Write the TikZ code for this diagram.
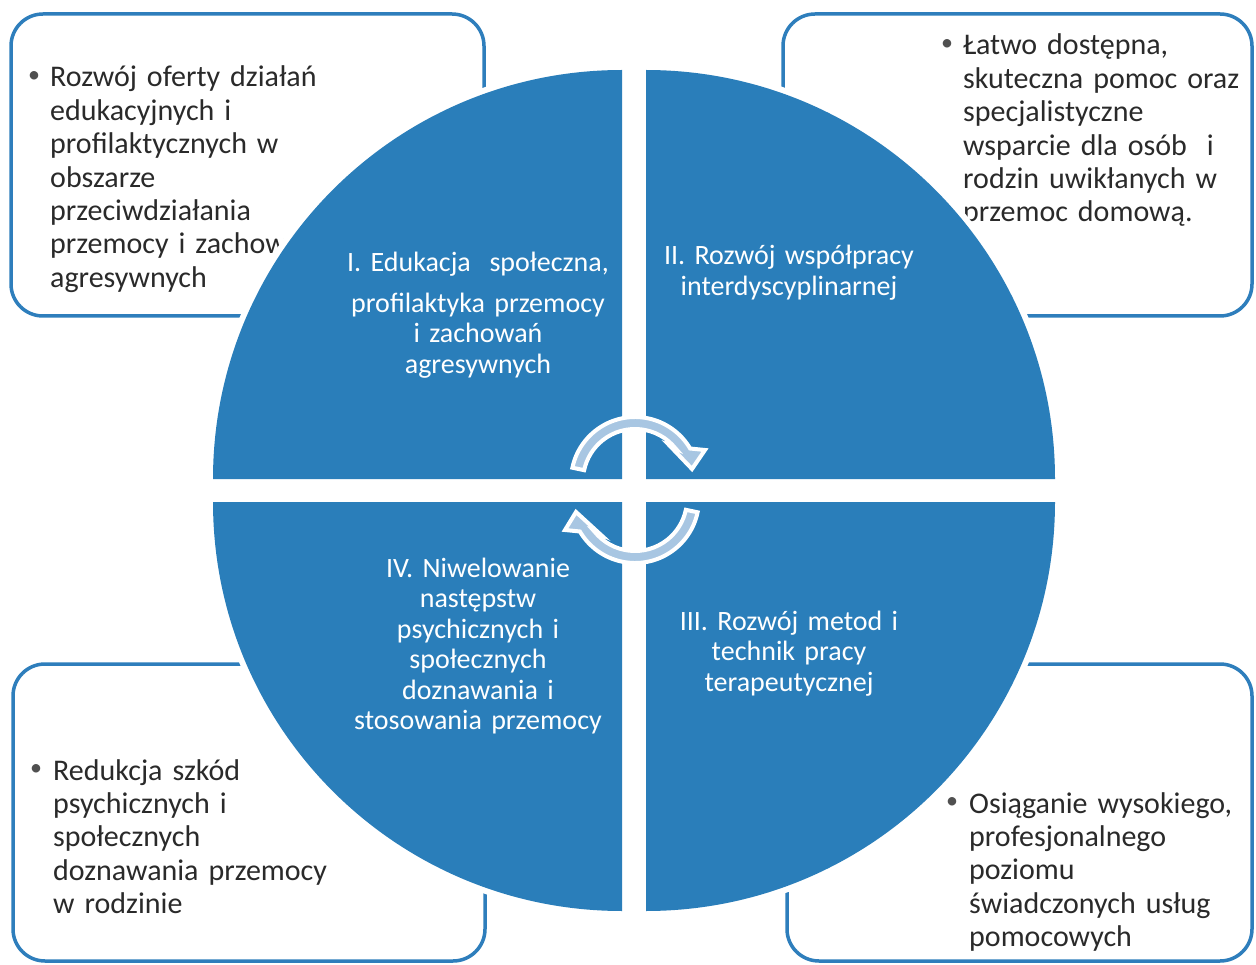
\documentclass[tikz,border=0pt]{standalone}
\usepackage{fontspec}
\setmainfont{Carlito}
\definecolor{qblue}{RGB}{42,126,186}
\definecolor{boxblue}{RGB}{46,126,188}
\definecolor{arrowblue}{RGB}{168,198,226}
\definecolor{txtgray}{RGB}{42,42,42}
\definecolor{bulgray}{RGB}{80,80,80}
\begin{document}
\begin{tikzpicture}[x=1pt,y=-1pt,
  halo/.style={draw=white,line width=12pt,line join=round},
  quad/.style={fill=qblue},
  infobox/.style={draw=boxblue,line width=3.5pt,rounded corners=32pt},
  boxtext/.style={inner sep=0pt,anchor=base west,text width=420pt,align=left,text=txtgray,font=\fontsize{30}{33.4}\selectfont},
  bulletmark/.style={inner sep=0pt,anchor=center,text=bulgray,font=\fontsize{24}{24}\selectfont},
  qtext/.style={inner sep=0pt,anchor=base,text width=320pt,align=center,text=white,font=\fontsize{28}{30.5}\selectfont},
  arrowst/.style={fill=arrowblue,draw=white,line width=4pt,line join=miter}
]
\useasboundingbox (0,0) rectangle (1256,965);
\fill[white] (0,0) rectangle (1256,965);

% outer boxes
\draw[infobox] (11,14) rectangle (484,316);
\draw[infobox] (783,14) rectangle (1252,316);
\draw[infobox] (13,664) rectangle (485,961);
\draw[infobox] (787,664) rectangle (1252,961);

% box texts
\node[bulletmark] (b1) at (34,77) {•};
\node[boxtext] (t1) at (50,87) {Rozwój oferty działań\\edukacyjnych i\\profilaktycznych w\\obszarze\\przeciwdziałania\\przemocy i zachowań\\agresywnych};
\node[bulletmark] (b2) at (947,45) {•};
\node[boxtext] (t2) at (963,55) {Łatwo dostępna,\\skuteczna pomoc oraz\\specjalistyczne\\wsparcie dla osób \ i\\rodzin uwikłanych w\\przemoc domową.};
\node[bulletmark] (b3) at (36,770) {•};
\node[boxtext] (t3) at (53,780) {Redukcja szkód\\psychicznych i\\społecznych\\doznawania przemocy\\w rodzinie};
\node[bulletmark] (b4) at (952,803) {•};
\node[boxtext] (t4) at (969,813) {Osiąganie wysokiego,\\profesjonalnego\\poziomu\\świadczonych usług\\pomocowych};

% white halos of the quadrants
\path[halo] (622,479) -- ++(-409,0) arc[start angle=180,end angle=270,radius=409] -- cycle;
\path[halo] (646,479) -- ++(0,-409) arc[start angle=270,end angle=360,radius=409] -- cycle;
\path[halo] (646,502) -- ++(409,0) arc[start angle=0,end angle=90,radius=409] -- cycle;
\path[halo] (622,502) -- ++(0,409) arc[start angle=90,end angle=180,radius=409] -- cycle;
% quadrants
\fill[quad] (622,479) -- ++(-409,0) arc[start angle=180,end angle=270,radius=409] -- cycle;
\fill[quad] (646,479) -- ++(0,-409) arc[start angle=270,end angle=360,radius=409] -- cycle;
\fill[quad] (646,502) -- ++(409,0) arc[start angle=0,end angle=90,radius=409] -- cycle;
\fill[quad] (622,502) -- ++(0,409) arc[start angle=90,end angle=180,radius=409] -- cycle;

% quadrant texts
\node[qtext] (q1) at (478,272) {I. Edukacja \ społeczna,\\[10pt]profilaktyka przemocy\\i zachowań\\agresywnych};
\node[qtext] (q2) at (789,265) {II. Rozwój współpracy\\interdyscyplinarnej};
\node[qtext] (q3) at (789,630) {III. Rozwój metod i\\technik pracy\\terapeutycznej};
\node[qtext] (q4) at (478,577) {IV. Niwelowanie\\następstw\\psychicznych i\\społecznych\\doznawania i\\stosowania przemocy};

% circular arrows
\begin{scope}[shift={(635,481)},y=1pt]
\path[arrowst] (168:64) arc[start angle=168,end angle=30.5,radius=64]
  -- (70,31) -- (57,12) -- (35,35) -- (38.7:52)
  arc[start angle=38.7,end angle=168,radius=52] -- cycle;
\end{scope}
\begin{scope}[shift={(635,499)},y=1pt]
\path[arrowst] (-12:64) arc[start angle=-12,end angle=-149.5,radius=64]
  -- (-70,-31) -- (-59,-13) -- (-35,-35) -- (-141.3:52)
  arc[start angle=-141.3,end angle=-12,radius=52] -- cycle;
\end{scope}
\end{tikzpicture}
\end{document}
